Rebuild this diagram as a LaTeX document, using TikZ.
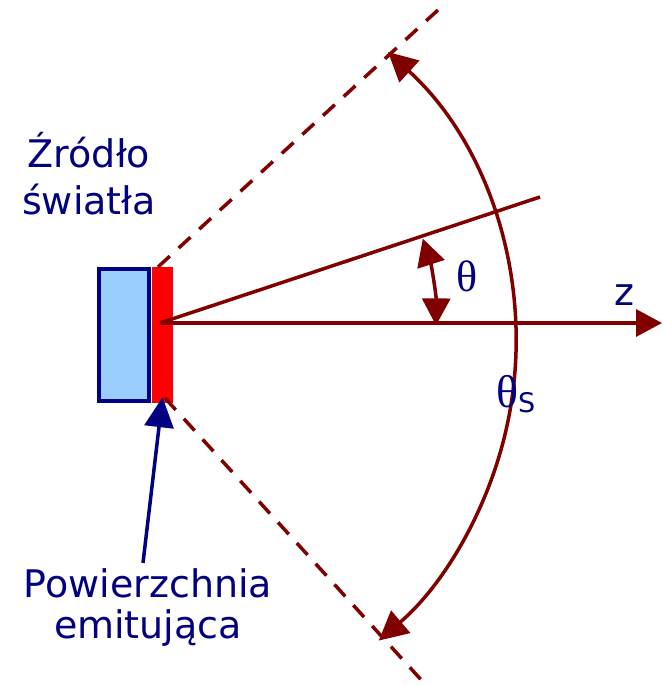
\documentclass[tikz,border=0pt]{standalone}
\usepackage{fontspec}
\setmainfont{DejaVu Sans}
\newfontfamily\greekfont{Liberation Serif}
\usetikzlibrary{positioning, arrows.meta, calc}
\definecolor{beamred}{HTML}{800000}
\definecolor{txtnavy}{HTML}{000080}
\definecolor{ledblue}{HTML}{99CCFF}
\definecolor{ledred}{HTML}{FF0000}
\tikzset{
  beam/.style={draw=beamred, line width=3.5pt},
  edgeline/.style={draw=beamred, line width=3.5pt, dash pattern=on 16pt off 12pt},
  bigtip/.style={-{Triangle[length=26pt,width=27pt]}},
  label/.style={text=txtnavy, font=\fontsize{38}{47}\selectfont, inner sep=0pt},
}
\begin{document}
\begin{tikzpicture}[x=1pt, y=1pt]
    \useasboundingbox (0,0) rectangle (663,-685);
    \node[draw=txtnavy, fill=ledblue, line width=4pt, minimum width=50pt, minimum height=132pt, inner sep=0pt] (housing) at (124,-335) {};
    \node[fill=ledred, minimum width=21pt, minimum height=136pt, inner sep=0pt] (emitter) at (162.5,-335) {};
    \coordinate (orig) at (160,-323);
    \coordinate (zend) at (662,-323);
    \coordinate (rayend) at (540,-197);
    \coordinate (edgeA1) at (158,-267);
    \coordinate (edgeA2) at (438,-10);
    \coordinate (edgeB1) at (165,-398);
    \coordinate (edgeB2) at (424,-683);
    \draw[edgeline] (edgeA1) -- (edgeA2);
    \draw[edgeline] (edgeB1) -- (edgeB2);
    \draw[beam] (orig) -- (rayend);
    \draw[beam, bigtip] (orig) -- (zend);
    \coordinate (spreadtop) at (388,-52);
    \draw[beam, {Triangle[length=29pt,width=29pt]}-{Triangle[length=29pt,width=29pt]}] (spreadtop) arc[start angle=47.6, end angle=-49.4, radius=393];
    \coordinate (thetalow) at (436,-325.4);
    \draw[beam, {Triangle[length=27pt,width=28pt]}-{Triangle[length=27pt,width=28pt]}] (thetalow) arc[start angle=-0.5, end angle=17.8, radius=276];
    \node[text=txtnavy, inner sep=0pt, font=\greekfont\fontsize{44}{44}\selectfont] (thlbl) at (467,-276) {θ};
    \node[text=txtnavy, inner sep=0pt, anchor=base west] (thslbl) at (496,-407)
      {{\greekfont\fontsize{46}{46}\selectfont θ}\raisebox{-5pt}{\fontsize{27}{27}\selectfont S}};
    \node[label, anchor=base] (zlbl) at (624,-305) {z};
    \node[label, align=center, anchor=base] (src) at (89,-214) {Źródło\\światła};
    \node[label, align=center, anchor=base, font=\fontsize{38}{41}\selectfont] (surf) at (148,-638) {Powierzchnia\\emitująca};
    \draw[draw=txtnavy, line width=3.5pt, -{Triangle[length=30pt,width=29pt]}] ($(surf.north)+(-5,5)$) -- ([yshift=6pt]emitter.south);
  \end{tikzpicture}
\end{document}
